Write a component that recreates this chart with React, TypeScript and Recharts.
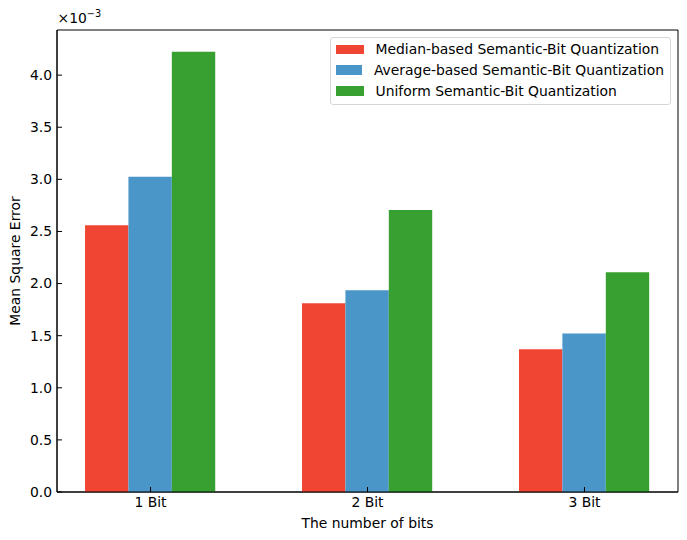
import React from "react";
import { BarChart, Bar, XAxis, YAxis, ReferenceArea } from "recharts";

const categories = ["1 Bit", "2 Bit", "3 Bit"];
const medianValues = [2.56, 1.81, 1.37];
const averageValues = [3.025, 1.935, 1.522];
const uniformValues = [4.224, 2.705, 2.109];
const yTicks = [0, 0.5, 1, 1.5, 2, 2.5, 3, 3.5, 4];
const seriesNames = [
  "Median-based Semantic-Bit Quantization",
  "Average-based Semantic-Bit Quantization",
  "Uniform Semantic-Bit Quantization",
];
const seriesColors = ["#F04533", "#4A96C8", "#38A030"];

const data = categories.map((c, i) => ({
  x: i,
  name: c,
  median: medianValues[i],
  average: averageValues[i],
  uniform: uniformValues[i],
}));

const FONT = "DejaVu Sans";
const FS = 13.9;
const X_MIN = -0.431;
const X_MAX = 2.431;
const Y_MAX = 4.433;

const LegendBox = () => (
  <div
    style={{
      position: "absolute",
      left: 330,
      top: 37,
      border: "1px solid #d6d6d6",
      borderRadius: 3,
      background: "rgba(255,255,255,0.8)",
      padding: "1px 6px 3px 5px",
      fontFamily: FONT,
      fontSize: FS,
      color: "#000",
      width: 328,
      height: 62,
      boxSizing: "content-box",
    }}
  >
    {seriesNames.map((n, i) => (
      <div key={n} style={{ display: "flex", alignItems: "center", height: 20.8, lineHeight: "20.8px", whiteSpace: "nowrap" }}>
        <span style={{ display: "inline-block", width: 27.5, height: 9.7, background: seriesColors[i], marginRight: 12 }} />
        <span>{n}</span>
      </div>
    ))}
  </div>
);

export default function App() {
  return (
    <div style={{ position: "absolute", left: 0, top: 0, width: 687, height: 540, background: "#fff" }}>
      <BarChart
        width={687}
        height={540}
        data={data}
        margin={{ top: 30, right: 9, bottom: 0, left: 0 }}
        barGap={0}
        barCategoryGap={0}
      >
        <XAxis
          dataKey="x"
          type="number"
          domain={[X_MIN, X_MAX]}
          ticks={[0, 1, 2]}
          allowDataOverflow
          tickFormatter={(v: number) => categories[v] ?? ""}
          height={48}
          tickSize={-5}
          tickMargin={10}
          stroke="#000"
          tick={{ fill: "#000", fontFamily: FONT, fontSize: FS }}
          tickLine={{ stroke: "#000" }}
          axisLine={{ stroke: "#000" }}
          label={{
            value: "The number of bits",
            position: "insideBottom",
            offset: 12,
            style: { fill: "#000", fontFamily: FONT, fontSize: FS },
          }}
        />
        <YAxis
          type="number"
          domain={[0, Y_MAX]}
          ticks={yTicks}
          allowDataOverflow
          width={57}
          tickSize={-5}
          tickMargin={10}
          tickFormatter={(v: number) => v.toFixed(1)}
          tick={{ fill: "#000", fontFamily: FONT, fontSize: FS }}
          tickLine={{ stroke: "#000" }}
          axisLine={{ stroke: "#000" }}
          label={{
            value: "Mean Square Error",
            angle: -90,
            position: "insideLeft",
            offset: 15,
            style: { fill: "#000", fontFamily: FONT, fontSize: FS, textAnchor: "middle" },
          }}
        />
        <Bar dataKey="median" name={seriesNames[0]} fill={seriesColors[0]} barSize={43.4} isAnimationActive={false} />
        <Bar dataKey="average" name={seriesNames[1]} fill={seriesColors[1]} barSize={43.4} isAnimationActive={false} />
        <Bar dataKey="uniform" name={seriesNames[2]} fill={seriesColors[2]} barSize={43.4} isAnimationActive={false} />
        <ReferenceArea
          x1={X_MIN}
          x2={X_MAX}
          y1={0}
          y2={Y_MAX}
          fill="none"
          fillOpacity={0}
          stroke="#000"
          strokeOpacity={1}
          strokeWidth={1}
          label={(props: any) => {
            const vb = props.viewBox || {};
            return (
              <text x={vb.x + 0.5} y={vb.y - 7} fontFamily={FONT} fontSize={FS} fill="#000">
                ×10
                <tspan dy={-6} fontSize={9.7}>−3</tspan>
              </text>
            );
          }}
        />
      </BarChart>
      <LegendBox />
    </div>
  );
}
